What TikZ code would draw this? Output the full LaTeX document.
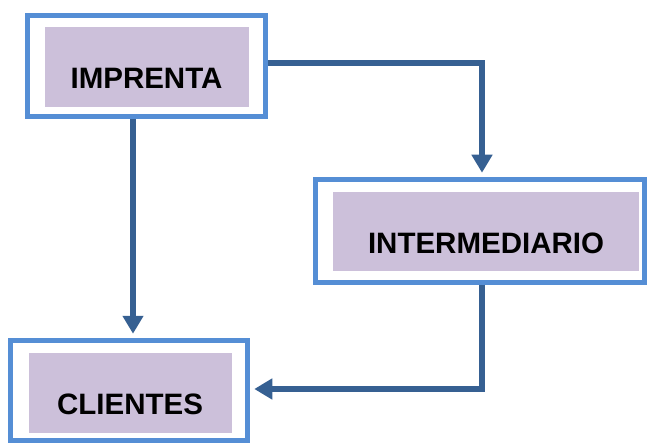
\documentclass[tikz,border=0pt]{standalone}
\usepackage{fontspec}
\setmainfont{Liberation Sans}
\usepackage{tikz}
\usetikzlibrary{arrows.meta}
\definecolor{borderblue}{RGB}{85,142,213}
\definecolor{arrowblue}{RGB}{54,96,146}
\definecolor{lavender}{RGB}{204,192,218}
\tikzstyle{frame} =
[rectangle, draw=borderblue, line width=5.5pt, fill=white, inner sep=0pt]
\tikzstyle{inner} =
[rectangle, fill=lavender, inner sep=0pt]
\tikzstyle{label} =
[anchor=base, inner sep=0pt, font=\fontsize{29.5}{35}\selectfont\bfseries]
\tikzstyle{line} =
[draw=arrowblue, line width=6pt, shorten >=4pt,
-{Triangle[width=20pt, length=18pt]}]

\begin{document}
\begin{tikzpicture}[x=1pt, y=-1pt]
  \useasboundingbox (0,0) rectangle (647,443);
  % outer frames
  \node [frame, minimum width=238pt, minimum height=101pt] (imprenta)
   at (146.5,66) {};
  \node [frame, minimum width=329pt, minimum height=103pt] (intermediario)
   at (480,231) {};
  \node [frame, minimum width=237pt, minimum height=100pt] (clientes)
   at (129,390.5) {};
  % inner boxes
  \node [inner, minimum width=204pt, minimum height=80pt] (imprentabox)
   at (147,67) {};
  \node [inner, minimum width=306pt, minimum height=79pt] (intermediariobox)
   at (486,231.5) {};
  \node [inner, minimum width=203pt, minimum height=80pt] (clientesbox)
   at (130.5,393) {};
  % texts
  \node [label] (imprentatxt) at (146.5,89) {IMPRENTA};
  \node [label] (intermediariotxt) at (486,253.5) {INTERMEDIARIO};
  \node [label] (clientestxt) at (130,414) {CLIENTES};
  % edges
  \path [line] ([xshift=-13.5pt]imprenta.south) -- ([xshift=4pt]clientes.north);
  \path [line] ([yshift=3pt]imprenta.east) -| ([xshift=2pt]intermediario.north);
  \path [line] ([xshift=2pt]intermediario.south) |- ([yshift=1.5pt]clientes.east);
\end{tikzpicture}
\end{document}
